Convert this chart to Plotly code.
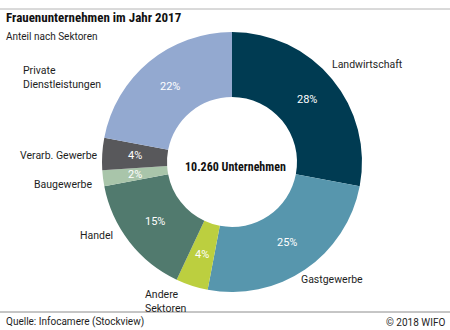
import math
import plotly.graph_objects as go

# Sector shares of women-owned enterprises, 2017 (percent)
sectors = ["Landwirtschaft", "Gastgewerbe", "Andere<br>Sektoren", "Handel",
           "Baugewerbe", "Verarb. Gewerbe", "Private<br>Dienstleistungen"]
shares = [28, 25, 4, 15, 2, 4, 22]
colors = ["#003b52", "#5796ad", "#bccf3f", "#517a6e", "#a9c5aa", "#58585b", "#93a9d0"]

title = "Frauenunternehmen im Jahr 2017"
subtitle = "Anteil nach Sektoren"
center_text = "10.260 Unternehmen"
source = "Quelle: Infocamere (Stockview)"
copyright_text = "© 2018 WIFO"

W, H = 450, 330
FONT = "Roboto, sans-serif"
FONT_TITLE = "Roboto Condensed, Roboto, sans-serif"
TXT = "#1e1e1e"

# donut centre, outer radius and hole fraction in pixels
cx, cy, r = 232, 162, 130
HOLE = 0.5


def px(x):
    return x / W


def py(y):
    return 1 - y / H


fig = go.Figure(go.Pie(
    labels=sectors,
    values=shares,
    marker=dict(colors=colors, line=dict(width=0)),
    hole=HOLE,
    sort=False,
    direction="clockwise",
    rotation=0,
    textinfo="none",
    hoverinfo="label+percent",
    showlegend=False,
    domain=dict(x=[px(cx - r), px(cx + r)], y=[py(cy + r), py(cy - r)]),
))

ann = []

# percentage labels centred in the ring at each slice's mid-angle
total = sum(shares)
ring_r = r * (1 + HOLE) / 2
cum = 0
for v in shares:
    mid = (cum + v / 2) / total * 2 * math.pi
    cum += v
    tx = cx + ring_r * math.sin(mid)
    ty = cy - ring_r * math.cos(mid)
    ann.append(dict(x=px(tx), y=py(ty), xref="paper", yref="paper",
                    text=f"{v}%", showarrow=False, xanchor="center", yanchor="middle",
                    font=dict(size=11, color="white", family=FONT)))

# outer category label anchors (left edge x, vertical centre y) in pixels
label_anchor = [(330, 64), (299, 279), (143, 301), (78, 235),
                (32, 185), (18, 156), (21, 77)]

for name, (lx, ly) in zip(sectors, label_anchor):
    ann.append(dict(x=px(lx), y=py(ly), xref="paper", yref="paper",
                    text=name, showarrow=False, xanchor="left", yanchor="middle",
                    align="left", font=dict(size=10.5, color=TXT, family=FONT)))

ann += [
    dict(x=px(235), y=py(167), xref="paper", yref="paper", text="<b>" + center_text + "</b>",
         showarrow=False, xanchor="center", yanchor="middle",
         font=dict(size=12, color="#111", family=FONT_TITLE)),
    dict(x=px(4), y=py(17), xref="paper", yref="paper", text="<b>" + title + "</b>",
         showarrow=False, xanchor="left", yanchor="middle",
         font=dict(size=13, color="#111", family=FONT_TITLE)),
    dict(x=px(4), y=py(36), xref="paper", yref="paper", text=subtitle,
         showarrow=False, xanchor="left", yanchor="middle",
         font=dict(size=10, color=TXT, family=FONT)),
    dict(x=px(4), y=py(322), xref="paper", yref="paper", text=source,
         showarrow=False, xanchor="left", yanchor="middle",
         font=dict(size=10, color=TXT, family=FONT)),
    dict(x=px(447), y=py(322), xref="paper", yref="paper", text=copyright_text,
         showarrow=False, xanchor="right", yanchor="middle",
         font=dict(size=10, color=TXT, family=FONT)),
]

shapes = [
    dict(type="line", xref="paper", yref="paper", x0=0, x1=1, y0=py(9), y1=py(9),
         line=dict(color="#b4b4b4", width=1)),
    dict(type="line", xref="paper", yref="paper", x0=0, x1=1, y0=py(312), y1=py(312),
         line=dict(color="#8c8c8c", width=1)),
]

fig.update_layout(
    width=W, height=H,
    margin=dict(l=0, r=0, t=0, b=0),
    paper_bgcolor="white",
    plot_bgcolor="white",
    annotations=ann,
    shapes=shapes,
    font=dict(family=FONT, color=TXT),
)

fig.write_html("out.html")
